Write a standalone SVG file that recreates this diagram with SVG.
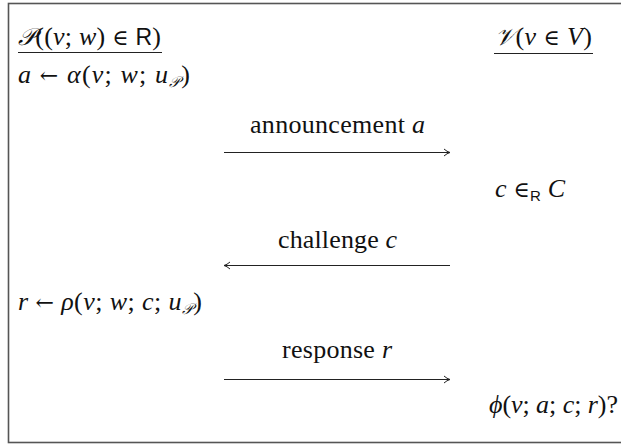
<svg xmlns="http://www.w3.org/2000/svg" width="621" height="445" viewBox="0 0 621 445">
<style>
.t{font-family:"Liberation Serif","DejaVu Serif",serif;font-size:26px;fill:#111}
.i{font-style:italic}
.s{font-family:"Liberation Sans","DejaVu Sans",sans-serif;font-size:23px}
.m{font-family:"DejaVu Serif","Liberation Serif",serif;font-size:22px}
.c{font-family:"DejaVu Serif","Liberation Serif",serif;font-style:italic;font-size:24px}
.c.sub,.s.sub{font-size:15px}
.ln{stroke:#222;stroke-width:1.1;fill:none}
</style>
<defs>
<marker id="ah" markerWidth="10" markerHeight="10" refX="8" refY="5" orient="auto" markerUnits="userSpaceOnUse">
<path d="M2,1.5 Q5,4.2 8,5 Q5,5.8 2,8.5" fill="none" stroke="#222" stroke-width="1"/>
</marker>
</defs>
<rect x="8.5" y="3.5" width="640" height="439" fill="#fff" stroke="#555" stroke-width="1.6"/>
<g id="prover-header">
<text class="t" x="18" y="45" textLength="143" lengthAdjust="spacing"><tspan class="c">𝒫</tspan>((<tspan class="i">v</tspan>; <tspan class="i">w</tspan>) <tspan class="m">∈</tspan> <tspan class="s">R</tspan>)</text>
<line class="ln" x1="18" y1="52.5" x2="162" y2="52.5"/>
</g>
<g id="verifier-header">
<text class="t" x="495" y="45" textLength="97" lengthAdjust="spacing"><tspan class="c">𝒱</tspan>(<tspan class="i">v</tspan> <tspan class="m">∈</tspan> <tspan class="i">V</tspan>)</text>
<line class="ln" x1="494" y1="53.5" x2="593" y2="53.5"/>
</g>
<g id="prover-announce">
<text class="t" x="18" y="83" textLength="172" lengthAdjust="spacing"><tspan class="i">a</tspan> <tspan class="m">←</tspan> <tspan class="i">α</tspan>(<tspan class="i">v</tspan>; <tspan class="i">w</tspan>; <tspan class="i">u</tspan><tspan class="c sub" dy="4">𝒫</tspan><tspan dy="-4">)</tspan></text>
</g>
<g id="verifier-challenge">
<text class="t" x="495" y="197" textLength="70" lengthAdjust="spacing"><tspan class="i">c</tspan> <tspan class="m">∈</tspan><tspan class="s sub" dy="4">R</tspan><tspan dy="-4"> </tspan><tspan class="i">C</tspan></text>
</g>
<g id="prover-response">
<text class="t" x="18" y="310" textLength="184" lengthAdjust="spacing"><tspan class="i">r</tspan> <tspan class="m">←</tspan> <tspan class="i">ρ</tspan>(<tspan class="i">v</tspan>; <tspan class="i">w</tspan>; <tspan class="i">c</tspan>; <tspan class="i">u</tspan><tspan class="c sub" dy="4">𝒫</tspan><tspan dy="-4">)</tspan></text>
</g>
<g id="verifier-check">
<text class="t" x="489" y="413" textLength="129" lengthAdjust="spacing"><tspan class="i">ϕ</tspan>(<tspan class="i">v</tspan>; <tspan class="i">a</tspan>; <tspan class="i">c</tspan>; <tspan class="i">r</tspan>)?</text>
</g>
<g id="connectors">
<line class="ln" x1="224" y1="152.5" x2="450" y2="152.5" marker-end="url(#ah)"/>
<text class="t" x="250" y="133" textLength="175" lengthAdjust="spacing">announcement <tspan class="i">a</tspan></text>
<line class="ln" x1="450" y1="265.5" x2="224" y2="265.5" marker-end="url(#ah)"/>
<text class="t" x="278" y="248" textLength="119" lengthAdjust="spacing">challenge <tspan class="i">c</tspan></text>
<line class="ln" x1="224" y1="379.5" x2="450" y2="379.5" marker-end="url(#ah)"/>
<text class="t" x="282" y="358" textLength="110" lengthAdjust="spacing">response <tspan class="i">r</tspan></text>
</g>
</svg>
